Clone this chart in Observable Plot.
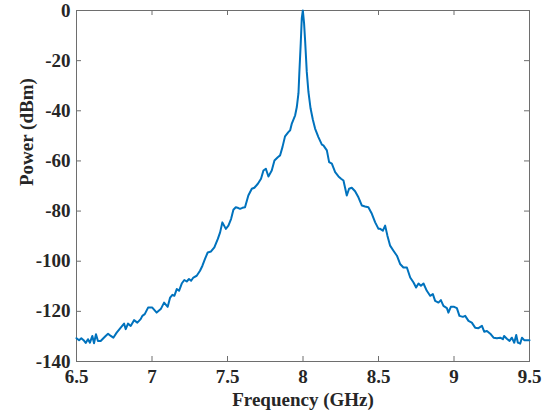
<!DOCTYPE html>
<html>
<head>
<meta charset="utf-8">
<script src="https://cdn.jsdelivr.net/npm/d3@7"></script>
<script src="https://cdn.jsdelivr.net/npm/@observablehq/plot@0.6"></script>
<style>
  html, body { margin: 0; padding: 0; background: #fff; }
</style>
</head>
<body>
<div id="chart"></div>
<script>
const freq = [
  6.500, 6.517, 6.532, 6.547, 6.561, 6.576, 6.589, 6.605, 6.616, 6.629,
  6.642, 6.660, 6.678, 6.693, 6.709, 6.727, 6.744, 6.766, 6.793, 6.815,
  6.826, 6.841, 6.859, 6.881, 6.903, 6.925, 6.936, 6.952, 6.974, 7.002,
  7.031, 7.058, 7.080, 7.104, 7.120, 7.135, 7.148, 7.164, 7.179, 7.197,
  7.214, 7.230, 7.245, 7.259, 7.274, 7.296, 7.318, 7.334, 7.351, 7.369,
  7.391, 7.413, 7.436, 7.451, 7.466, 7.489, 7.506, 7.524, 7.539, 7.555,
  7.572, 7.583, 7.599, 7.616, 7.638, 7.661, 7.678, 7.701, 7.722, 7.738,
  7.754, 7.771, 7.793, 7.811, 7.833, 7.848, 7.864, 7.881, 7.903, 7.915,
  7.926, 7.948, 7.959, 7.970, 7.976, 7.985, 7.992, 7.999, 8.007, 8.014,
  8.025, 8.036, 8.050, 8.065, 8.080, 8.102, 8.125, 8.135, 8.158, 8.173,
  8.191, 8.213, 8.235, 8.252, 8.268, 8.290, 8.305, 8.323, 8.345, 8.367,
  8.390, 8.411, 8.433, 8.456, 8.478, 8.500, 8.511, 8.529, 8.544, 8.559,
  8.577, 8.599, 8.622, 8.643, 8.665, 8.688, 8.710, 8.732, 8.749, 8.765,
  8.781, 8.798, 8.820, 8.842, 8.860, 8.875, 8.897, 8.913, 8.930, 8.953,
  8.963, 8.979, 9.001, 9.019, 9.036, 9.059, 9.074, 9.096, 9.118, 9.140,
  9.162, 9.185, 9.200, 9.218, 9.240, 9.262, 9.284, 9.306, 9.324, 9.332,
  9.350, 9.368, 9.383, 9.399, 9.412, 9.423, 9.438, 9.450, 9.465, 9.483,
  9.500
];
const power = [
  -130.7, -131.5, -130.7, -131.5, -132.6, -131.1, -132.5, -129.8, -132.7, -129.1,
  -131.8, -131.8, -130.7, -129.8, -128.9, -129.8, -130.5, -128.5, -126.5, -124.9,
  -127.1, -124.9, -125.8, -123.5, -124.5, -123.1, -121.8, -121.1, -118.5, -118.5,
  -120.5, -119.1, -116.5, -118.2, -114.5, -113.4, -113.8, -111.1, -111.8, -108.9,
  -107.5, -108.1, -107.1, -107.8, -106.5, -105.8, -103.8, -101.8, -99.1, -96.5,
  -96.1, -94.5, -91.1, -88.5, -84.5, -87.1, -85.8, -83.1, -79.5, -78.5,
  -78.8, -79.1, -78.7, -78.5, -73.8, -71.1, -70.7, -69.1, -67.1, -63.8,
  -63.1, -66.2, -63.8, -59.8, -58.5, -57.8, -54.5, -50.2, -48.5, -47.8,
  -45.1, -41.8, -38.5, -33.0, -24.5, -13.1, -3.0, 0.0, -5.0, -12.0,
  -24.5, -32.5, -39.0, -43.5, -47.1, -50.5, -53.5, -53.8, -55.8, -60.5,
  -61.1, -64.5, -66.2, -67.1, -67.8, -73.8, -71.1, -70.7, -72.1, -74.5,
  -77.8, -78.2, -78.5, -81.1, -84.5, -87.1, -87.1, -87.8, -85.8, -89.8,
  -93.8, -95.8, -97.8, -101.1, -102.5, -102.5, -106.5, -108.5, -110.5, -108.9,
  -109.8, -108.9, -111.8, -113.8, -113.1, -115.8, -116.5, -115.5, -117.8, -118.7,
  -120.5, -118.2, -118.2, -118.7, -121.8, -122.2, -121.8, -123.8, -124.5, -126.5,
  -126.7, -125.8, -128.1, -127.8, -128.9, -130.5, -130.7, -130.5, -131.1, -129.8,
  -130.9, -131.8, -130.5, -132.5, -129.4, -132.5, -132.9, -130.5, -131.5, -131.5,
  -131.5
];
const xTicks = [6.5, 7, 7.5, 8, 8.5, 9, 9.5];
const yTicks = [0, -20, -40, -60, -80, -100, -120, -140];
const xLabel = "Frequency (GHz)";
const yLabel = "Power (dBm)";

const data = freq.map((f, i) => ({f, p: power[i]}));

const W = 555, H = 418;
const mL = 76, mR = 26, mT = 10, mB = 57;
const plotH = H - mT - mB;
const plotW = W - mL - mR;
const tickLen = 5;
const axisColor = "#6e6e6e";
const font = "'Liberation Serif', 'Times New Roman', serif";

const chart = Plot.plot({
  width: W,
  height: H,
  marginLeft: mL,
  marginRight: mR,
  marginTop: mT,
  marginBottom: mB,
  style: {fontFamily: font, background: "#fff", color: "#262626"},
  x: {domain: [6.5, 9.5]},
  y: {domain: [-140, 0]},
  marks: [
    Plot.frame({stroke: axisColor, strokeWidth: 1}),
    Plot.ruleX(xTicks, {x: d => d, insetTop: plotH - tickLen, stroke: axisColor}),
    Plot.ruleX(xTicks, {x: d => d, insetBottom: plotH - tickLen, stroke: axisColor}),
    Plot.ruleY(yTicks, {y: d => d, insetRight: plotW - tickLen, stroke: axisColor}),
    Plot.ruleY(yTicks, {y: d => d, insetLeft: plotW - tickLen, stroke: axisColor}),
    Plot.line(data, {x: "f", y: "p", stroke: "#0072BD", strokeWidth: 2}),
    Plot.axisX(xTicks, {tickSize: 0, tickPadding: 8, tickFormat: d => String(d),
      fontSize: 19, fontWeight: "bold", label: null, fill: "#262626"}),
    Plot.axisY(yTicks, {tickSize: 0, tickPadding: 6, tickFormat: d => String(d),
      fontSize: 19, fontWeight: "bold", label: null, fill: "#262626"}),
    Plot.text([xLabel], {text: d => d, frameAnchor: "bottom", dy: 44,
      fontSize: 19, fontWeight: "bold", fill: "#262626"}),
    Plot.text([yLabel], {text: d => d, frameAnchor: "left", rotate: -90, dx: -50,
      fontSize: 19, fontWeight: "bold", fill: "#262626"})
  ]
});
document.getElementById("chart").appendChild(chart);
</script>
</body>
</html>
